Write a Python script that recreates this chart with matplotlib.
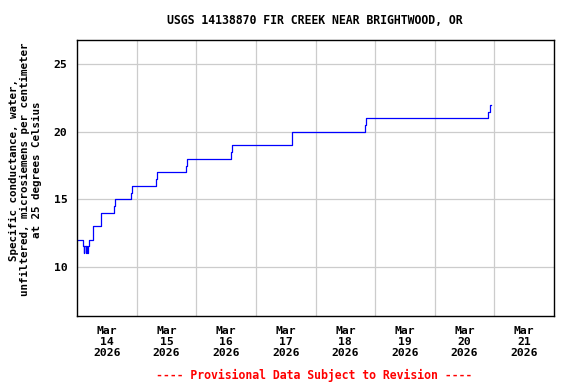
import numpy as np
import matplotlib
matplotlib.use("Agg")
import matplotlib.pyplot as plt

title = "USGS 14138870 FIR CREEK NEAR BRIGHTWOOD, OR"
ylabel = "Specific conductance, water,\nunfiltered, microsiemens per centimeter\nat 25 degrees Celsius"
footer = "---- Provisional Data Subject to Revision ----"

start = np.datetime64("2026-03-14T00:00")
# hours after start at which the reading changes, and the reading from then on
change_hours = [0, 2.3, 2.7, 2.95, 3.45, 3.7, 4.2, 4.45, 4.65, 6.45,
                9.6, 9.85, 15.0, 15.25, 21.8, 22.05, 31.8, 32.05,
                43.85, 44.1, 62.0, 62.25, 86.4, 86.65, 115.9, 116.15,
                165.6, 166.1, 166.8]
values = [12, 11.5, 11, 11.5, 11, 11.5, 11, 11.5, 12, 13,
          13.5, 14, 14.5, 15, 15.5, 16, 16.5, 17,
          17.5, 18, 18.5, 19, 19.5, 20, 20.5, 21,
          21.5, 22, 22]

day_labels = ["Mar\n14\n2026", "Mar\n15\n2026", "Mar\n16\n2026", "Mar\n17\n2026",
              "Mar\n18\n2026", "Mar\n19\n2026", "Mar\n20\n2026", "Mar\n21\n2026"]
y_ticks = [10, 15, 20, 25]

def to_dt(a):
    return [t.astype("datetime64[ms]").astype(object) for t in np.atleast_1d(a)]

times = start + (np.array(change_hours) * 60).astype("timedelta64[m]")
days = start + np.arange(len(day_labels) + 1).astype("timedelta64[D]")
noons = days[:-1] + np.timedelta64(12, "h")

plt.rcParams['font.family'] = ['DejaVu Sans Mono']
plt.rcParams['font.weight'] = 'bold'

fig = plt.figure(figsize=(5.76, 3.84), dpi=100)
ax = fig.add_axes([77/576, 1-316/384, (554-77)/576, (316-40)/384])

ax.plot(to_dt(times), values, drawstyle="steps-post", color="#0000ff", lw=0.9)

ax.set_xlim(to_dt(days[0])[0], to_dt(days[-1])[0])
ax.set_ylim(6.35, 26.8)

ax.set_xticks(to_dt(noons))
ax.set_xticklabels(day_labels, fontsize=8.2, fontweight='bold', linespacing=1.15)
ax.set_xticks(to_dt(days[1:-1]), minor=True)
ax.set_yticks(y_ticks)
ax.set_yticklabels([str(v) for v in y_ticks], fontsize=8.2, fontweight='bold')

ax.tick_params(axis='x', which='both', length=0, pad=7)
ax.tick_params(axis='y', which='both', length=0, pad=7)
ax.grid(True, which='minor', axis='x', color='#cccccc', lw=0.9)
ax.grid(True, which='major', axis='y', color='#cccccc', lw=0.9)
ax.set_axisbelow(True)
for s in ax.spines.values():
    s.set_color('black')
    s.set_linewidth(1.0)

ax.set_ylabel(ylabel, fontsize=7.8, fontweight='bold', linespacing=1.15)
ax.yaxis.set_label_coords(-0.074, 0.53)
fig.text(315/576, 1-20/384, title, ha='center', va='center', fontsize=8.3, fontweight='bold')
fig.text(314/576, 1-375/384, footer, ha='center', va='center', fontsize=8.3,
         fontweight='bold', color='red')

fig.savefig("out.png", dpi=100)
